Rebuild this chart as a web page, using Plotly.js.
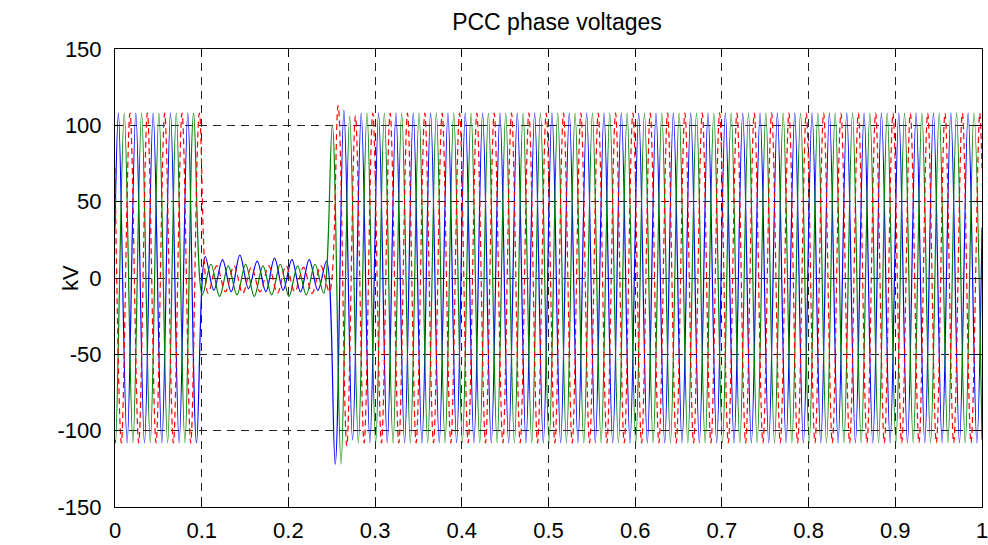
<!DOCTYPE html>
<html>
<head>
<meta charset="utf-8">
<script src="https://cdn.plot.ly/plotly-3.0.1.min.js"></script>
<style>
  html, body { margin: 0; padding: 0; background: #fff; }
  #chart { width: 988px; height: 545px; }
</style>
</head>
<body>
<div id="chart"></div>
<script>
// PCC phase voltages (kV): successive waveform extrema of each phase,
// one every half cycle of the 50 Hz supply.
const halfCycle = 0.01;              // s between successive extrema
const firstPeakA = 0.004;            // s, first extremum of phase A
const firstPeakB = 0.000667;         // s, first extremum of phase B
const firstPeakC = 0.007333;         // s, first extremum of phase C

// Instantaneous values at t = 0 and t = 1 s
const startKV = { A: 33, B: -106, C: 72 };
const endKV   = { A: 33, B: -106, C: 72 };

// Phase A (blue)
const phaseA_pre   = [108,-108,108,-108,108,-108,108,-108,108,-108];
const phaseA_fault = [14,-8,12,-9,15,-7,11,-9,13,-8,12,-9,12,-8,11];
const phaseA_clear = [-122];
const phaseA_post  = [110,-106,
  108,-108,108,-108,108,-108,108,-108,108,-108,108,-108,108,-108,108,-108,
  108,-108,108,-108,108,-108,108,-108,108,-108,108,-108,108,-108,108,-108,
  108,-108,108,-108,108,-108,108,-108,108,-108,108,-108,108,-108,108,-108,
  108,-108,108,-108,108,-108,108,-108,108,-108,108,-108,108,-108,108,-108,
  108,-108,108,-108,108,-108,108,-108];

// Phase B (green)
const phaseB_pre   = [-108,108,-108,108,-108,108,-108,108,-108,108];
const phaseB_fault = [-11,9,-12,8,-11,9,-12,8,-11,9,-12,8,-11,9,-10];
const phaseB_clear = [100,-122];
const phaseB_post  = [106,-108,
  108,-108,108,-108,108,-108,108,-108,108,-108,108,-108,108,-108,108,-108,
  108,-108,108,-108,108,-108,108,-108,108,-108,108,-108,108,-108,108,-108,
  108,-108,108,-108,108,-108,108,-108,108,-108,108,-108,108,-108,108,-108,
  108,-108,108,-108,108,-108,108,-108,108,-108,108,-108,108,-108,108,-108,
  108,-108,108,-108,108,-108,
  108];

// Phase C (red, dashed)
const phaseC_pre   = [-108,108,-108,108,-108,108,-108,108,-108,108];
const phaseC_fault = [-10,8,-9,8,-10,7,-9,8,-10,8,-9,7,-10,8,-9];
const phaseC_clear = [113];
const phaseC_post  = [-110,106,
  -108,108,-108,108,-108,108,-108,108,-108,108,-108,108,-108,108,-108,108,
  -108,108,-108,108,-108,108,-108,108,-108,108,-108,108,-108,108,-108,108,
  -108,108,-108,108,-108,108,-108,108,-108,108,-108,108,-108,108,-108,108,
  -108,108,-108,108,-108,108,-108,108,-108,108,-108,108,-108,108,-108,108,
  -108,108,-108,108,-108,108,-108,108];

// Axis ticks
const xTickVals = [0,0.1,0.2,0.3,0.4,0.5,0.6,0.7,0.8,0.9,1];
const xTickText = ['0','0.1','0.2','0.3','0.4','0.5','0.6','0.7','0.8','0.9','1'];
const yTickVals = [-150,-100,-50,0,50,100,150];
const yTickText = ['-150','-100','-50','0','50','100','150'];

const chartTitle = 'PCC phase voltages';
const yLabel = 'kV';

function buildPhase(firstPeak, v0, parts, v1) {
  const peaks = [].concat(...parts);
  const t = [0], v = [v0];
  peaks.forEach((p, k) => { t.push(firstPeak + k * halfCycle); v.push(p); });
  t.push(1); v.push(v1);
  return { t, v };
}

const A = buildPhase(firstPeakA, startKV.A, [phaseA_pre, phaseA_fault, phaseA_clear, phaseA_post], endKV.A);
const B = buildPhase(firstPeakB, startKV.B, [phaseB_pre, phaseB_fault, phaseB_clear, phaseB_post], endKV.B);
const C = buildPhase(firstPeakC, startKV.C, [phaseC_pre, phaseC_fault, phaseC_clear, phaseC_post], endKV.C);

const traces = [
  { x: A.t, y: A.v, type: 'scatter', mode: 'lines', name: 'a',
    line: { color: '#0000ff', width: 1.2, shape: 'spline', smoothing: 1 } },
  { x: B.t, y: B.v, type: 'scatter', mode: 'lines', name: 'b',
    line: { color: '#008000', width: 1.2, shape: 'spline', smoothing: 1 } },
  { x: C.t, y: C.v, type: 'scatter', mode: 'lines', name: 'c',
    line: { color: '#ff0000', width: 1.2, shape: 'spline', smoothing: 1, dash: '6px,4px' } }
];

const fontFamily = '"Liberation Sans", Arial, Helvetica, sans-serif';
const font = { family: fontFamily, size: 22, color: '#000' };

const axisCommon = {
  ticks: 'inside', ticklen: 8, tickcolor: '#000', tickwidth: 1,
  showline: true, linecolor: '#000', linewidth: 1, mirror: 'allticks',
  showgrid: true, gridcolor: '#222', gridwidth: 1, griddash: '8px,6px',
  zeroline: false, tickfont: font, fixedrange: true, ticklabeloverflow: 'allow'
};

const layout = {
  width: 988, height: 545,
  margin: { l: 115, r: 6, t: 49, b: 38, pad: 0 },
  paper_bgcolor: '#fff', plot_bgcolor: '#fff',
  showlegend: false,
  font: font,
  title: { text: chartTitle, font: { family: fontFamily, size: 23, color: '#000' },
           xref: 'container', x: 557 / 988, xanchor: 'center',
           yref: 'container', y: 1 - 22 / 545, yanchor: 'middle' },
  xaxis: Object.assign({}, axisCommon, { range: [0, 1], tickmode: 'array',
           tickvals: xTickVals, ticktext: xTickText, ticklabelstandoff: 4 }),
  yaxis: Object.assign({}, axisCommon, { range: [-150, 150], tickmode: 'array',
           tickvals: yTickVals, ticktext: yTickText, ticklabelstandoff: 8 }),
  annotations: [{
    text: yLabel, xref: 'paper', yref: 'paper', x: (70 - 115) / 867, y: 0.5,
    xanchor: 'center', yanchor: 'middle', textangle: -90, showarrow: false, font: font
  }]
};

Plotly.newPlot('chart', traces, layout, { staticPlot: true, displayModeBar: false });
</script>
</body>
</html>
